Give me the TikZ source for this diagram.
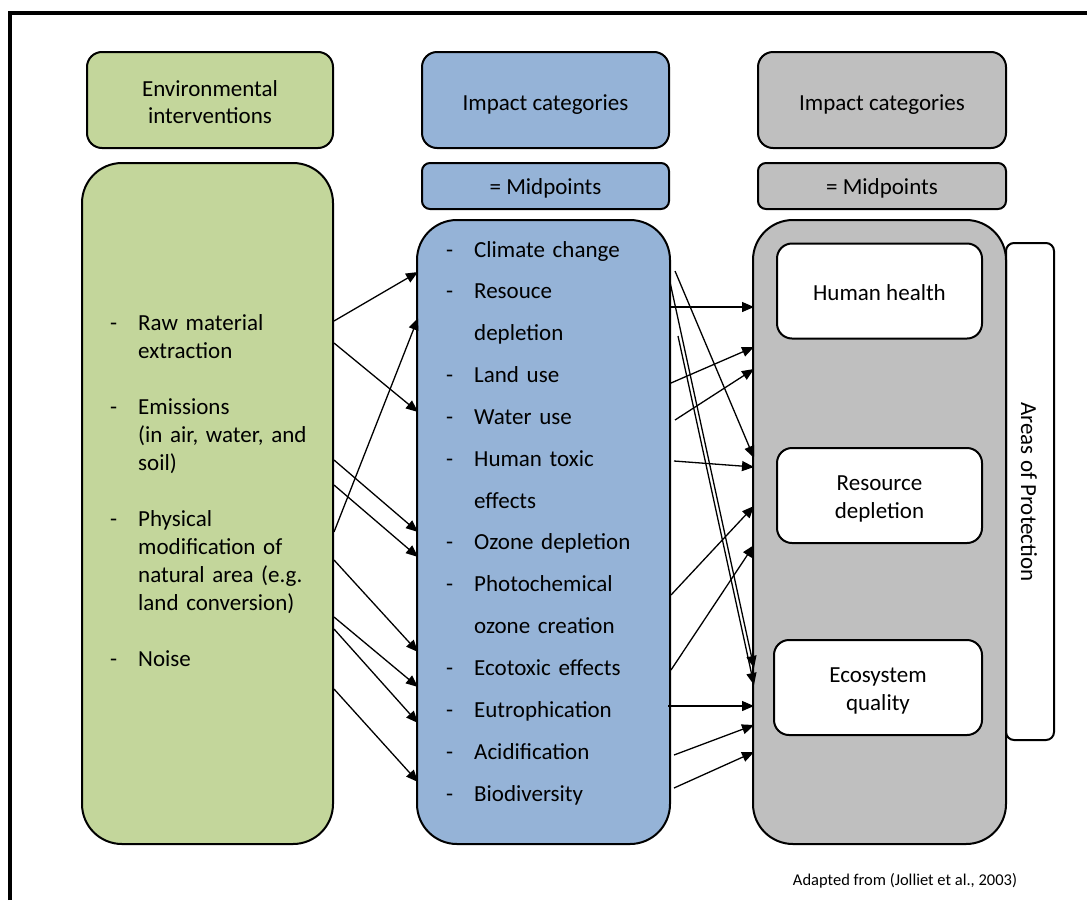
\documentclass[tikz,border=0pt]{standalone}
\usepackage{fontspec}
\setmainfont{Carlito}
\usetikzlibrary{arrows.meta,calc}
\definecolor{envgreen}{HTML}{C3D69B}
\definecolor{catblue}{HTML}{95B3D7}
\definecolor{catgray}{HTML}{BFBFBF}
% list item with a hanging dash, and its continuation line
\newcommand\listdash[1]{\makebox[28pt][l]{-}#1}
\newcommand\listcont[1]{\hspace*{28pt}#1}
\begin{document}
\begin{tikzpicture}[x=1pt,y=-1pt,
  box/.style={draw=black, line width=2pt, inner sep=0pt},
  headbox/.style={box, rounded corners=15pt, minimum width=247pt, minimum height=96pt},
  midbox/.style={box, rounded corners=8pt, minimum width=247pt, minimum height=46pt},
  bodybox/.style={box, rounded corners=40pt, minimum width=253pt},
  protbox/.style={box, fill=white, rounded corners=15pt, minimum height=95pt},
  boxtext/.style={inner sep=0pt, align=center, font=\fontsize{23}{28}\selectfont},
  link/.style={line width=1.3pt, -{Triangle[length=12pt,width=10pt]}},
  listtext/.style={inner sep=0pt, anchor=base west, align=left, text width=230pt}
]
\useasboundingbox (0,0) rectangle (1087,900);

% page frame
\draw[line width=4pt] (10,900) -- (10,13) -- (1087,13);

% environmental interventions column
\node[headbox, fill=envgreen, minimum width=246pt] (envhead) at (210,100) {};
\node[boxtext, font=\fontsize{23}{27}\selectfont] (envheadtext)
  at ($(envhead.center)+(0,2.5)$) {Environmental\\interventions};
\node[bodybox, fill=envgreen, minimum width=251pt, minimum height=681pt]
  (envbody) at (207.5,503.5) {};
\node[listtext, font=\fontsize{23}{28}\selectfont] (envlist) at (110,330) {%
  \listdash{Raw material}\\
  \listcont{extraction}\\[28pt]
  \listdash{Emissions}\\
  \listcont{(in air, water, and}\\
  \listcont{soil)}\\[28pt]
  \listdash{Physical}\\
  \listcont{modification of}\\
  \listcont{natural area (e.g.}\\
  \listcont{land conversion)}\\[28pt]
  \listdash{Noise}};

% midpoint impact categories column
\node[headbox, fill=catblue] (midhead) at (545.5,100) {};
\node[boxtext] (midheadtext) at ($(midhead.center)+(0,4.5)$) {Impact categories};
\node[midbox, fill=catblue] (midlabel) at (545.5,186) {};
\node[boxtext] (midlabeltext) at ($(midlabel.center)+(0,2)$) {= Midpoints};
\node[bodybox, fill=catblue, minimum height=624pt] (midbody) at (543.5,532) {};
\node[listtext, font=\fontsize{23}{41.85}\selectfont] (midlist) at (446,257) {%
  \listdash{Climate change}\\
  \listdash{Resouce}\\
  \listcont{depletion}\\
  \listdash{Land use}\\
  \listdash{Water use}\\
  \listdash{Human toxic}\\
  \listcont{effects}\\
  \listdash{Ozone depletion}\\
  \listdash{Photochemical}\\
  \listcont{ozone creation}\\
  \listdash{Ecotoxic effects}\\
  \listdash{Eutrophication}\\
  \listdash{Acidification}\\
  \listdash{Biodiversity}};

% areas of protection column
\node[headbox, fill=catgray, minimum width=248pt] (endhead) at (882,100) {};
\node[boxtext] (endheadtext) at ($(endhead.center)+(0,4.5)$) {Impact categories};
\node[midbox, fill=catgray, minimum width=248pt] (endlabel) at (882,186) {};
\node[boxtext] (endlabeltext) at ($(endlabel.center)+(0,2)$) {= Midpoints};
\node[bodybox, fill=catgray, minimum height=624pt] (endbody) at (879.5,532) {};
\node[protbox, minimum width=205pt] (health) at (879.5,291) {};
\node[boxtext] (healthtext) at ($(health.center)+(0,1.5)$) {Human health};
\node[protbox, minimum width=205pt] (resource) at (879.5,495.5) {};
\node[boxtext] (resourcetext) at ($(resource.center)+(0,3)$) {Resource\\depletion};
\node[protbox, minimum width=208pt] (ecosys) at (878,687.5) {};
\node[boxtext] (ecosystext) at ($(ecosys.center)+(0,3)$) {Ecosystem\\quality};
\node[box, rounded corners=8pt, minimum width=48pt, minimum height=497pt]
  (aop) at (1030,491.5) {};
\node[boxtext, rotate=-90] (aoplabel) at (1029,492) {Areas of Protection};

% interventions -> midpoints
\foreach \sy/\ey in {321/272, 343/412, 532/318, 460/532, 485/557,
                     560/652, 617/687, 629/723, 689/782}
  \draw[link] (envbody.east |- 0,\sy) -- ($(midbody.west |- 0,\ey)+(2,0)$);

% midpoints -> areas of protection
\foreach \dx/\sy/\ey in {0/307/307, 4/271/458, -1/282/668, 7/336/685,
                         0/383/347, 4/420/369, 3/461/467, 0/595/506,
                         0/670/545, -3/706/706, 3/755/725, 3/788/752}
  \draw[link] ($(midbody.east |- 0,\sy)+(\dx,0)$) -- ($(endbody.west |- 0,\ey)+(2,0)$);

% source note
\node[inner sep=0pt, font=\fontsize{16.5}{20}\selectfont] (source) at (905,881)
  {Adapted from (Jolliet et al., 2003)};
\end{tikzpicture}
\end{document}
